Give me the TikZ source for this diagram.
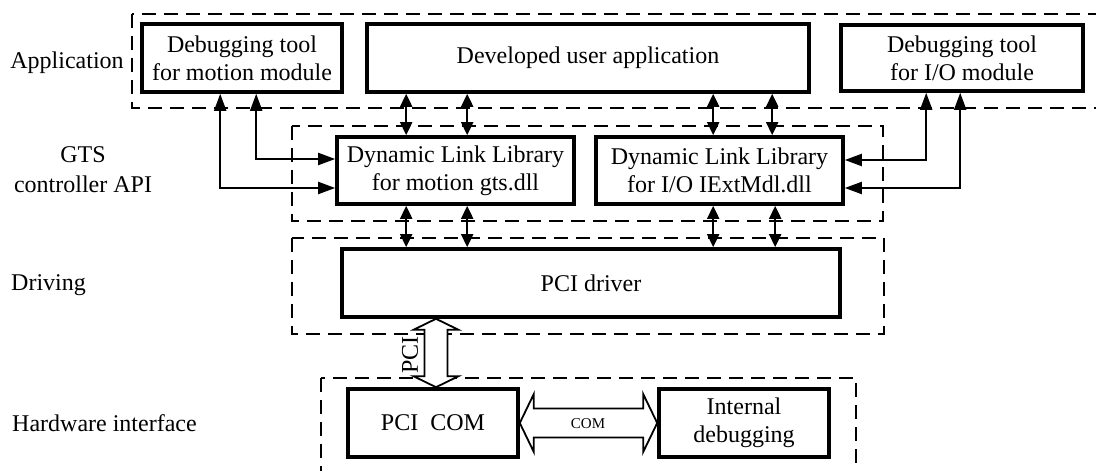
\documentclass[tikz,border=0pt]{standalone}
\usepackage{fontspec}
\setmainfont{Liberation Serif}
\usetikzlibrary{arrows.meta,calc}
\begin{document}
\begin{tikzpicture}[x=1pt,y=1pt,
  box/.style={draw, line width=3.6pt, align=center, inner sep=0pt, font=\fontsize{24}{28}\selectfont},
  layer/.style={draw, line width=2.4pt, dash pattern=on 14pt off 8pt},
  dbl/.style={line width=2pt, {Triangle[length=17pt,width=12pt]}-{Triangle[length=17pt,width=12pt]}},
  sdbl/.style={line width=2pt, {Triangle[length=13pt,width=12pt]}-{Triangle[length=13pt,width=12pt]}},
  hollow/.style={draw, fill=white, line width=1.8pt, line join=miter},
  lbl/.style={font=\fontsize{24}{28}\selectfont, inner sep=0pt}]
\useasboundingbox (0,0) rectangle (1096,471);
\clip (0,0) rectangle (1096,471);

% layer frames
\draw[layer] (132,457) rectangle (1106,363);
\draw[layer] (292,345) rectangle (883,250);
\draw[layer] (292,233) rectangle (884,137);
\draw[layer] (321,93) rectangle (856,-12);

% layer labels
\node[lbl] (lApp) at (67,408) {Application};
\node[lbl, align=center, font=\fontsize{24}{30}\selectfont] (lGTS) at (83,301) {GTS\\controller API};
\node[lbl, anchor=west] (lDrv) at (11,186) {Driving};
\node[lbl, anchor=west] (lHW) at (12,48) {Hardware interface};

% boxes
\node[box, fill=white, minimum width=200pt, minimum height=68pt] (dbgM) at (242,413) {Debugging tool\\for motion module};
\node[box, fill=white, minimum width=442pt, minimum height=68pt] (userApp) at (588,413) {Developed user application};
\node[box, fill=white, minimum width=242pt, minimum height=66pt] (dbgIO) at (962,413) {Debugging tool\\for I/O module};
\node[box, fill=white, minimum width=237pt, minimum height=67pt] (dllM) at (455.5,300.5) {Dynamic Link Library\\for motion gts.dll};
\node[box, fill=white, minimum width=247pt, minimum height=67pt] (dllIO) at (719.5,300.5) {Dynamic Link Library\\for I/O IExtMdl.dll};
\node[box, fill=white, minimum width=498pt, minimum height=68pt] (pcid) at (591,188) {PCI driver};
\node[box, fill=white, minimum width=170pt, minimum height=68pt] (pcicom) at (433,48) {PCI~~COM};
\node[box, fill=white, minimum width=170pt, minimum height=68pt] (intdbg) at (744,48) {Internal\\debugging};

% debugging tools to DLLs
\draw[dbl] ([xshift=116pt]dbgM.south west) |- ([yshift=11.5pt]dllM.west);
\draw[dbl] ([xshift=80pt]dbgM.south west) |- ([yshift=-17.5pt]dllM.west);
\draw[dbl] ([xshift=87pt]dbgIO.south west) |- ([yshift=10.5pt]dllIO.east);
\draw[dbl] ([xshift=121pt]dbgIO.south west) |- ([yshift=-17.5pt]dllIO.east);

% user application to DLLs
\draw[sdbl] ([xshift=41pt]userApp.south west) -- ([xshift=71pt]dllM.north west);
\draw[sdbl] ([xshift=102pt]userApp.south west) -- ([xshift=132pt]dllM.north west);
\draw[sdbl] ([xshift=348pt]userApp.south west) -- ([xshift=119pt]dllIO.north west);
\draw[sdbl] ([xshift=407pt]userApp.south west) -- ([xshift=178pt]dllIO.north west);

% DLLs to PCI driver
\draw[sdbl] ([xshift=71pt]dllM.south west) -- ([xshift=66pt]pcid.north west);
\draw[sdbl] ([xshift=132pt]dllM.south west) -- ([xshift=127pt]pcid.north west);
\draw[sdbl] ([xshift=119pt]dllIO.south west) -- ([xshift=373pt]pcid.north west);
\draw[sdbl] ([xshift=181pt]dllIO.south west) -- ([xshift=435pt]pcid.north west);

% PCI hollow double arrow
\coordinate (pT) at ([xshift=-155pt]pcid.south);
\coordinate (pB) at (pT |- pcicom.north);
\draw[hollow] (pT) -- ++(22.5,-11) -- ++(-11,0) -- ($(pB)+(11.5,11)$) -- ++(11,0) -- (pB)
  -- ++(-22.5,11) -- ++(11,0) -- ($(pT)+(-11.5,-11)$) -- ++(-11,0) -- cycle;
\node[lbl, rotate=90] (pcilbl) at (410,116) {PCI};

% COM hollow double arrow
\coordinate (cL) at (pcicom.east);
\coordinate (cR) at (intdbg.west);
\draw[hollow] (cL) -- ++(14,29) -- ++(0,-14.5) -- ($(cR)+(-14,14.5)$) -- ++(0,14.5) -- (cR)
  -- ++(-14,-29) -- ++(0,14.5) -- ($(cL)+(14,-14.5)$) -- ++(0,-14.5) -- cycle;
\node[font=\fontsize{15}{18}\selectfont, inner sep=0pt] (comlbl) at (588,47) {COM};
\end{tikzpicture}
\end{document}
